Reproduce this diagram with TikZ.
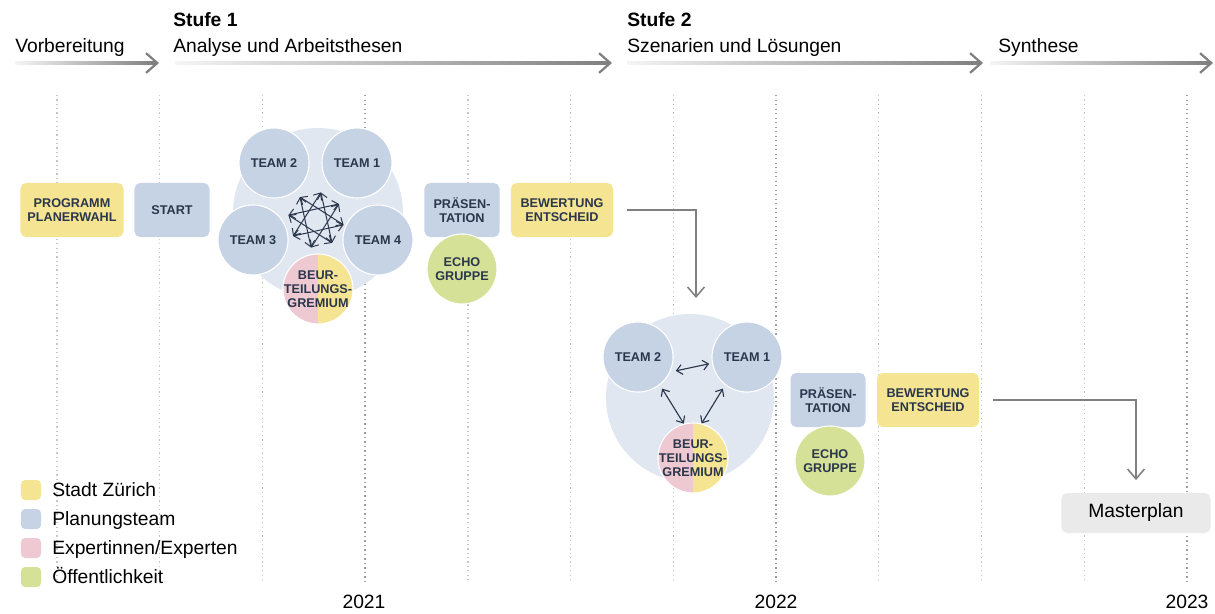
\documentclass[tikz,border=0pt]{standalone}
\usepackage{fontspec}
\setmainfont{Liberation Sans}
\usepackage{tikz}
\usetikzlibrary{positioning,calc,arrows.meta}

\definecolor{stadt}{RGB}{245,228,146}
\definecolor{plan}{RGB}{198,211,228}
\definecolor{experts}{RGB}{238,201,209}
\definecolor{public}{RGB}{214,225,152}
\definecolor{halo}{RGB}{224,231,241}
\definecolor{ink}{RGB}{42,54,76}
\definecolor{mastergray}{RGB}{234,234,234}

\begin{document}
\begin{tikzpicture}[x=0.025cm, y=-0.025cm,
  big/.style={font=\fontsize{13.7}{16}\selectfont, inner sep=0pt},
  boxtext/.style={align=center, text=ink, font=\fontsize{9}{10}\selectfont\bfseries},
  box/.style={boxtext, rectangle, rounded corners=4pt, minimum height=1.35cm, inner sep=0pt},
  disc/.style={boxtext, circle, minimum size=1.75cm, inner sep=0pt, draw=white, line width=0.8pt},
  halfdisc/.style={disc, fill=stadt, path picture={\fill[experts]
      (path picture bounding box.south west) rectangle (path picture bounding box.north);}},
  grid/.style={gray!45, line width=0.9pt, dash pattern=on 0.9pt off 2.2pt},
  yeargrid/.style={gray!75, line width=1pt, dash pattern=on 1pt off 2.2pt},
  phase/.style={black!50, line width=1.6pt, -{Straight Barb[length=8pt,width=14pt]}},
  flow/.style={black!50, line width=1.1pt, -{Straight Barb[length=7pt,width=12pt]}},
  link/.style={ink, line width=0.8pt, {Straight Barb[length=4pt,width=7pt]}-{Straight Barb[length=4pt,width=7pt]}},
  legend/.style={rectangle, rounded corners=3pt, minimum size=0.5cm, inner sep=0pt}
  ]
  \useasboundingbox (0,0) rectangle (1215,613);

  % time grid
  \foreach \i in {0,1,2,4,5,6,8,9,10}
    \draw[grid] ({57+102.73*\i},95) -- ({57+102.73*\i},583);
  \foreach \i in {3,7,11}
    \draw[yeargrid] ({57+102.73*\i},95) -- ({57+102.73*\i},583);

  % years
  \node[big, anchor=base] (y2021) at (364,608) {2021};
  \node[big, anchor=base] (y2022) at (776,608) {2022};
  \node[big, anchor=base] (y2023) at (1187,608) {2023};

  % phases
  \foreach \s/\e in {15/159, 175/612, 627/983, 990/1213} {
    \shade[left color=black!4, right color=black!50] (\s,61.7) rectangle (\e-3,64.3);
    \draw[phase] (\e-8,63) -- (\e,63);
  }
  \node[big, anchor=base west] (prep) at (15,52) {Vorbereitung};
  \node[big, anchor=base west, font=\fontsize{13.7}{16}\selectfont\bfseries] (st1) at (173,26) {Stufe 1};
  \node[big, anchor=base west] (ana) at (173,52) {Analyse und Arbeitsthesen};
  \node[big, anchor=base west, font=\fontsize{13.7}{16}\selectfont\bfseries] (st2) at (627,26) {Stufe 2};
  \node[big, anchor=base west] (szen) at (627,52) {Szenarien und Lösungen};
  \node[big, anchor=base west] (syn) at (998,52) {Synthese};

  % preparation
  \node[box, fill=stadt, minimum width=2.575cm] (prog) at (72,210) {PROGRAMM\\PLANERWAHL};
  \node[box, fill=plan, minimum width=1.875cm] (start) at (172,210) {START};

  % stage 1 cluster
  \node[circle, fill=halo, minimum size=4.25cm] (halo1) at (318,213) {};
  \node[disc, fill=plan] (t2a) at (274,163) {TEAM 2};
  \node[disc, fill=plan] (t1a) at (357,163) {TEAM 1};
  \node[disc, fill=plan] (t3a) at (253,240) {TEAM 3};
  \node[disc, fill=plan] (t4a) at (378,240) {TEAM 4};
  \node[halfdisc, label={[boxtext]center:BEUR-\\TEILUNGS-\\GREMIUM}] (gr1) at (318,289) {};

  % exchange between the teams
  \foreach \i in {0,...,7}
    \coordinate (k\i) at ($(316,220)+({45*\i+10}:28)$);
  \foreach \i in {0,...,7} {
    \pgfmathtruncatemacro\j{mod(\i+3,8)}
    \draw[link, line width=0.7pt] (k\i) -- (k\j);
  }

  \node[box, fill=plan, minimum width=1.875cm] (praes1) at (462,210) {PRÄSEN-\\TATION};
  \node[disc, fill=public] (echo1) at (462,269) {ECHO\\GRUPPE};
  \node[box, fill=stadt, minimum width=2.55cm] (bew1) at (562,210) {BEWERTUNG\\ENTSCHEID};

  % stage 2 cluster
  \node[circle, fill=halo, minimum size=4.2cm] (halo2) at (690,398) {};
  \node[disc, fill=plan] (t2b) at (638,357) {TEAM 2};
  \node[disc, fill=plan] (t1b) at (747,357) {TEAM 1};
  \node[halfdisc, label={[boxtext]center:BEUR-\\TEILUNGS-\\GREMIUM}] (gr2) at (693,458) {};
  \draw[link, shorten <=4pt, shorten >=2pt] (t2b.-25) -- (t1b.190);
  \draw[link, shorten <=3pt] (t2b.-52) -- (gr2.105);
  \draw[link, shorten <=3pt] (t1b.232) -- (gr2.76);

  \node[box, fill=plan, minimum width=1.875cm] (praes2) at (828,400) {PRÄSEN-\\TATION};
  \node[disc, fill=public] (echo2) at (830,461) {ECHO\\GRUPPE};
  \node[box, fill=stadt, minimum width=2.55cm] (bew2) at (928,400) {BEWERTUNG\\ENTSCHEID};

  % synthesis
  \node[rectangle, rounded corners=4pt, fill=mastergray, minimum width=3.725cm,
    minimum height=1cm, big] (master) at (1136,513) {Masterplan};

  % flow between the stages
  \coordinate (drop1) at (696,298);
  \draw[flow] ([xshift=14*0.025cm]bew1.east) -| (drop1);
  \draw[flow, shorten >=9pt] ([xshift=14*0.025cm]bew2.east) -| (master.north);

  % legend
  \node[legend, fill=stadt] (lg1) at (31,490) {};
  \node[legend, fill=plan] (lg2) at (31,519) {};
  \node[legend, fill=experts] (lg3) at (31,548) {};
  \node[legend, fill=public] (lg4) at (31,577) {};
  \node[big, anchor=base west] at (52,496) {Stadt Zürich};
  \node[big, anchor=base west] at (52,525) {Planungsteam};
  \node[big, anchor=base west] at (52,554) {Expertinnen/Experten};
  \node[big, anchor=base west] at (52,583) {Öffentlichkeit};
\end{tikzpicture}
\end{document}
